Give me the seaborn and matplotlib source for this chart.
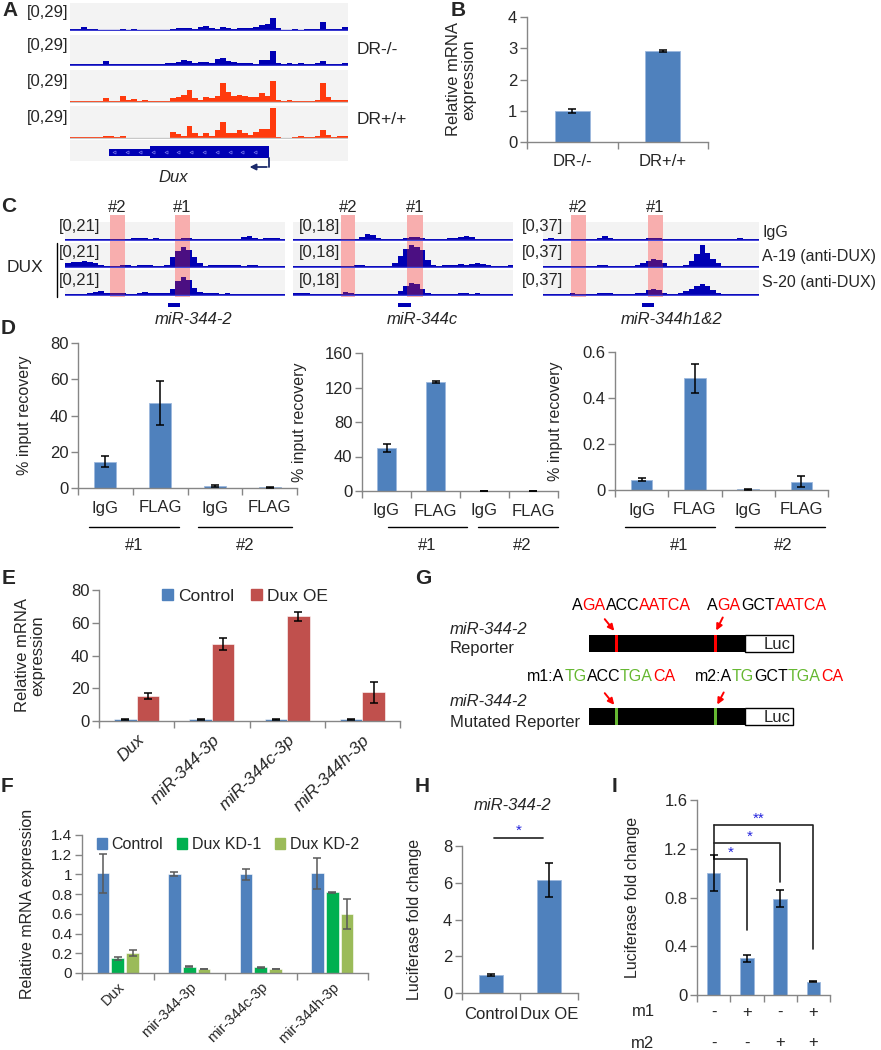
import numpy as np
import pandas as pd
import matplotlib
matplotlib.use("Agg")
import matplotlib.pyplot as plt
import seaborn as sns
from matplotlib.patches import Rectangle, Patch
from matplotlib.lines import Line2D
from matplotlib.transforms import Affine2D, blended_transform_factory
from matplotlib.offsetbox import TextArea, HPacker, AnnotationBbox

# ---------------- data ----------------
# A: coverage over the Dux locus, 50 bins, scale [0,29]
a_ko_1 = [0.8, 1, 3.5, 1, 0.5, 0, 0, 0, 0, 0.8, 0, 0.8, 0, 0, 0, 0, 0, 0, 1.5, 2.5,
          2, 2.5, 1.5, 3, 4, 2.5, 1.5, 3, 2.5, 1.5, 2, 2.5, 2, 3, 5, 6.5, 13, 2, 0, 0,
          1, 0, 1, 0.8, 1, 8, 1.5, 1, 1.5, 3]
a_ko_2 = [0.3, 0.3, 0.3, 0.3, 0.3, 0.5, 4, 1, 1.2, 1.2, 0.3, 0.3, 0.3, 0.3, 0.3, 0.3, 0.3, 1.5, 2, 2.5,
          4.5, 4, 1.5, 2.5, 3, 1.5, 6, 6.5, 3.5, 2.5, 2, 2, 1.5, 1, 4.5, 4.5, 13, 1.5, 0.5, 1.5,
          0.5, 1.5, 0.3, 0.3, 1.5, 4, 1, 1, 1.2, 2]
a_wt_1 = [0.3, 0.8, 1, 0.5, 0.3, 0.5, 3.5, 0.5, 0.5, 5, 2, 2.5, 0.5, 1.5, 0.3, 0.3, 0.3, 0.3, 3, 4,
          6, 11, 3.5, 2, 4, 3, 5, 17, 9, 5, 6, 5.5, 4.5, 4.5, 8, 5, 19, 2, 0.3, 1.5,
          1, 0.5, 0.3, 1, 1.5, 17, 4, 1.5, 1.5, 1.2]
a_wt_2 = [1, 0.8, 0.8, 0.5, 0.3, 0.3, 2, 1.2, 1, 1.2, 0.2, 0.2, 0.2, 0.2, 0.2, 0.2, 0.2, 0.2, 5, 3,
          2, 11, 4, 1.5, 4, 2, 7, 14, 4, 4, 7, 4, 2.5, 5, 8, 8, 27, 0.5, 0.2, 0.2,
          1, 1.2, 0.5, 1, 1.5, 7, 2.5, 1, 1.5, 1.2]

# B
b_geno = ['DR-/-', 'DR+/+']
b_expr = [1.0, 2.9]
b_err = [0.07, 0.03]

# C: ChIP-seq tracks (fraction of track scale), 40 bins
c_samples = ['IgG', 'A-19 (anti-DUX)', 'S-20 (anti-DUX)']
c_loci = ['miR-344-2', 'miR-344c', 'miR-344h1&2']
c_scales = ['[0,21]', '[0,18]', '[0,37]']
c1_igg = [0.05, 0.05, 0.05, 0.05, 0.05, 0.05, 0.05, 0.05, 0.05, 0.05, 0.05, 0.05, 0.15, 0.15, 0.1, 0.05, 0.1, 0.08, 0.08, 0.05,
          0.08, 0.12, 0.1, 0.05, 0.05, 0.05, 0.05, 0.05, 0.05, 0.05, 0.05, 0.05, 0.2, 0.25, 0.1, 0.05, 0.1, 0.1, 0.1, 0.05]
c1_a19 = [0.15, 0.2, 0.22, 0.25, 0.2, 0.15, 0.08, 0.05, 0.05, 0.05, 0.08, 0.1, 0.05, 0.08, 0.08, 0.08, 0.05, 0.05, 0.1, 0.4,
          0.65, 0.85, 0.7, 0.4, 0.15, 0.05, 0.08, 0.08, 0.1, 0.08, 0.1, 0.08, 0.05, 0.1, 0.08, 0.05, 0.05, 0.05, 0.05, 0.05]
c1_s20 = [0.05, 0.05, 0.05, 0.05, 0.1, 0.12, 0.15, 0.1, 0.08, 0.1, 0.1, 0.05, 0.05, 0.1, 0.12, 0.08, 0.1, 0.1, 0.08, 0.25,
          0.55, 0.72, 0.6, 0.3, 0.12, 0.1, 0.08, 0.08, 0.05, 0.08, 0.05, 0.05, 0.05, 0.05, 0.05, 0.05, 0.05, 0.05, 0.05, 0.05]
c2_igg = [0.05, 0.05, 0.05, 0.05, 0.05, 0.05, 0.05, 0.05, 0.05, 0.05, 0.05, 0.08, 0.2, 0.35, 0.3, 0.1, 0.05, 0.05, 0.05, 0.05,
          0.1, 0.2, 0.2, 0.1, 0.05, 0.05, 0.05, 0.08, 0.1, 0.15, 0.2, 0.25, 0.2, 0.05, 0.05, 0.05, 0.05, 0.05, 0.05, 0.05]
c2_a19 = [0.05, 0.05, 0.05, 0.05, 0.05, 0.05, 0.05, 0.05, 0.05, 0.05, 0.05, 0.1, 0.08, 0.05, 0.05, 0.05, 0.05, 0.05, 0.15, 0.45,
          0.75, 0.9, 0.85, 0.7, 0.3, 0.1, 0.05, 0.08, 0.1, 0.1, 0.12, 0.1, 0.12, 0.15, 0.12, 0.1, 0.05, 0.05, 0.05, 0.08]
c2_s20 = [0.1, 0.1, 0.08, 0.05, 0.05, 0.05, 0.05, 0.05, 0.05, 0.12, 0.08, 0.05, 0.05, 0.05, 0.05, 0.05, 0.05, 0.05, 0.05, 0.15,
          0.35, 0.5, 0.45, 0.25, 0.1, 0.05, 0.05, 0.05, 0.05, 0.05, 0.1, 0.1, 0.05, 0.1, 0.05, 0.05, 0.05, 0.05, 0.05, 0.05]
c3_igg = [0.05, 0.1, 0.08, 0.05, 0.05, 0.05, 0.05, 0.05, 0.05, 0.05, 0.15, 0.25, 0.15, 0.05, 0.05, 0.05, 0.05, 0.05, 0.05, 0.1,
          0.15, 0.15, 0.08, 0.05, 0.05, 0.05, 0.05, 0.05, 0.05, 0.05, 0.05, 0.05, 0.05, 0.05, 0.05, 0.05, 0.1, 0.08, 0.05, 0.05]
c3_a19 = [0.05, 0.05, 0.05, 0.05, 0.05, 0.05, 0.05, 0.05, 0.05, 0.05, 0.08, 0.1, 0.05, 0.05, 0.05, 0.05, 0.05, 0.1, 0.15, 0.25,
          0.35, 0.3, 0.15, 0.05, 0.05, 0.05, 0.1, 0.25, 0.55, 0.9, 0.6, 0.35, 0.15, 0.05, 0.05, 0.05, 0.05, 0.05, 0.05, 0.05]
c3_s20 = [0.05, 0.05, 0.05, 0.05, 0.05, 0.08, 0.05, 0.05, 0.05, 0.05, 0.08, 0.1, 0.08, 0.05, 0.05, 0.05, 0.05, 0.08, 0.1, 0.2,
          0.25, 0.2, 0.1, 0.05, 0.05, 0.1, 0.15, 0.25, 0.35, 0.45, 0.35, 0.2, 0.08, 0.05, 0.05, 0.05, 0.05, 0.05, 0.05, 0.05]
c_tracks = [[c1_igg, c1_a19, c1_s20], [c2_igg, c2_a19, c2_s20], [c3_igg, c3_a19, c3_s20]]
# regions #2 and #1 (bins) and miRNA position (bins)
c_roi = [[(8.2, 10.9), (20.0, 22.7)], [(8.7, 11.3), (20.7, 23.6)], [(5.2, 8.0), (19.4, 22.2)]]
c_mir = [(18.7, 20.9), (19.1, 21.5), (18.3, 20.6)]

# D: ChIP-qPCR
d_cats = ['IgG #1', 'FLAG #1', 'IgG #2', 'FLAG #2']
d_ticklabels = ['IgG', 'FLAG', 'IgG', 'FLAG']
d_344_2 = [14.5, 47, 1.0, 0.4]
d_344_2_err = [3, 12, 0.5, 0.2]
d_344c = [50, 126, 0.5, 0.5]
d_344c_err = [5, 1.2, 0, 0]
d_344h = [0.045, 0.485, 0.003, 0.035]
d_344h_err = [0.008, 0.063, 0.001, 0.024]

# E: Dux overexpression
e_genes = ['Dux', 'miR-344-3p', 'miR-344c-3p', 'miR-344h-3p']
e_control = [1, 1, 1, 1]
e_control_err = [0.2, 0.3, 0.2, 0.3]
e_oe = [15.5, 47, 64, 17.5]
e_oe_err = [1.8, 3.8, 2.8, 6.5]

# F: Dux knockdown
f_genes = ['Dux', 'mir-344-3p', 'mir-344c-3p', 'mir-344h-3p']
f_control = [1.01, 1.0, 1.0, 1.01]
f_control_err = [0.2, 0.02, 0.06, 0.16]
f_kd1 = [0.15, 0.065, 0.06, 0.82]
f_kd1_err = [0.015, 0.005, 0.005, 0.005]
f_kd2 = [0.2, 0.04, 0.04, 0.6]
f_kd2_err = [0.03, 0.004, 0.004, 0.155]

# H: luciferase, Dux OE
h_groups = ['Control', 'Dux OE']
h_fold = [1.0, 6.15]
h_err = [0.05, 0.93]

# I: luciferase, mutants
i_m1 = ['-', '+', '-', '+']
i_m2 = ['-', '-', '+', '+']
i_fold = [1.0, 0.3, 0.79, 0.11]
i_err = [0.15, 0.03, 0.07, 0.006]

# ---------------- style ----------------
sns.set_style("white")
plt.rcParams['font.family'] = ['Liberation Sans', 'DejaVu Sans']

BAR_BLUE = '#4F81BD'
BAR_RED = '#C0504D'
KD1_GREEN = '#00B050'
KD2_GREEN = '#9BBB59'
AX_GRAY = '#868686'
TRK_BLUE = '#0000B4'
TRK_RED = '#FF3A0D'
PINK = '#F8AEAE'
PURPLE = '#4B0F82'
TRK_BG = '#F3F3F3'
STAR_BLUE = '#2222DD'

W, H = 881, 1050
fig = plt.figure(figsize=(W / 100, H / 100), dpi=100)
px = Affine2D().scale(1 / W, -1 / H).translate(0, 1) + fig.transFigure


def box(x0, y0, x1, y1):
    return [x0 / W, 1 - y1 / H, (x1 - x0) / W, (y1 - y0) / H]


def label(x, y, s, **kw):
    kw.setdefault('va', 'center')
    kw.setdefault('ha', 'left')
    kw.setdefault('fontsize', 12)
    return fig.text(x, y, s, transform=px, **kw)


def plain(ax):
    ax.set_xticks([])
    ax.set_yticks([])
    for sp in ax.spines.values():
        sp.set_visible(False)


def draw_track(rect, vals, color, base, ymax, rois=()):
    ax = fig.add_axes(box(*rect))
    ax.set_facecolor(TRK_BG)
    n = len(vals)
    edges = np.arange(n + 1)
    for s, e in rois:
        ax.axvspan(s, e, color=PINK, lw=0, zorder=0.5)
    ax.stairs(vals, edges, fill=True, color=color, lw=0, zorder=2)
    for s, e in rois:
        st = ax.stairs(vals, edges, fill=True, color=PURPLE, lw=0, zorder=3)
        st.set_clip_path(Rectangle((s, -ymax), e - s, 3 * ymax, transform=ax.transData))
    ax.axhline(0, color=base, lw=1, zorder=4)
    ax.set_xlim(0, n)
    ax.set_ylim(-0.04 * ymax, ymax)
    plain(ax)
    return ax


def excel(ax, n, ylim, yticks, fs=12):
    ax.set_xlabel('')
    ax.set_ylabel('')
    ax.set_ylim(*ylim)
    ax.set_yticks(yticks)
    ax.set_yticklabels([f'{t:g}' for t in yticks])
    ax.set_xlim(-0.5, n - 0.5)
    ax.set_xticks(np.arange(n + 1) - 0.5, minor=True)
    ax.tick_params(axis='x', which='major', length=0, labelsize=fs, pad=9, bottom=True)
    ax.tick_params(axis='x', which='minor', length=5, width=1, color=AX_GRAY, direction='out', bottom=True)
    ax.tick_params(axis='y', length=5, width=1, color=AX_GRAY, direction='out', labelsize=fs, left=True, pad=2)
    for s in ['top', 'right']:
        ax.spines[s].set_visible(False)
    for s in ['left', 'bottom']:
        ax.spines[s].set_color(AX_GRAY)
        ax.spines[s].set_linewidth(1)
    ax.set_facecolor('none')


def errbars(ax, errs, color='black'):
    for cont, ee in zip(ax.containers, errs):
        for bar, e in zip(cont, ee):
            ax.errorbar(bar.get_x() + bar.get_width() / 2, bar.get_height(), yerr=e,
                        color=color, capsize=3, lw=1.1, capthick=1.1, zorder=5)


# ---------------- panel letters ----------------
for ch, x, y in [('A', 2, 11), ('B', 451, 11), ('C', 1, 206), ('D', 1, 328), ('E', 2, 578),
                 ('G', 415, 578), ('F', 1, 787), ('H', 415, 787), ('I', 612, 787)]:
    label(x, y, ch, fontsize=15, fontweight='bold')

# ---------------- A ----------------
a_rows = [(3, 31), (35, 66), (70, 103), (106, 139)]
for (y0, y1), vals, col, base in zip(a_rows, [a_ko_1, a_ko_2, a_wt_1, a_wt_2],
                                     [TRK_BLUE, TRK_BLUE, TRK_RED, TRK_RED],
                                     ['#3B3BD0', '#3B3BD0', '#C8C8C8', '#C8C8C8']):
    draw_track((70, y0, 348, y1), vals, col, base, 29)
    label(68, (y0 + y1) / 2 - 5, '[0,29]', ha='right')
label(357, 49, 'DR-/-', fontsize=12.5)
label(357, 120, 'DR+/+', fontsize=12.5)

gax = fig.add_axes(box(70, 140, 348, 161))
gax.set_facecolor(TRK_BG)
gax.set_xlim(0, 50)
gax.set_ylim(161, 140)
plain(gax)
gax.add_patch(Rectangle((7.0, 149), 7.4, 7, color=TRK_BLUE, lw=0))
gax.add_patch(Rectangle((14.4, 146), 21.4, 12, color=TRK_BLUE, lw=0))
chev = np.arange(8, 35, 2.3)
gax.plot(chev, [152] * len(chev), ls='none', marker='<',
         ms=2.2, mfc='none', mec='#7777EE', mew=0.5)
gax.plot([35.8, 35.8], [158, 167], color='#1B2A6B', lw=1.3, clip_on=False)
gax.annotate('', xy=(31.8, 167), xytext=(35.9, 167), xycoords='data',
             arrowprops=dict(arrowstyle='-|>', color='#1B2A6B', lw=1.3, mutation_scale=9),
             annotation_clip=False)
label(173, 178, 'Dux', ha='center', fontstyle='italic')

# ---------------- B ----------------
ax = fig.add_axes(box(527, 17, 708, 142))
sns.barplot(x=b_geno, y=b_expr, color=BAR_BLUE, width=0.39, saturation=1, errorbar=None, ax=ax,
            edgecolor='#9DB9DD', linewidth=0.6)
errbars(ax, [b_err])
excel(ax, 2, (0, 4), [0, 1, 2, 3, 4])
ax.set_ylabel('Relative mRNA\nexpression', fontsize=12, linespacing=1.0)
ax.yaxis.set_label_coords(-0.28, 0.5)

# ---------------- C ----------------
c_groups = [(65, 285), (293, 513), (543, 759)]
c_rows = [(222, 241), (243, 268), (270, 296)]
c_label_x = [100, 340, 563]
for gi, (gx0, gx1) in enumerate(c_groups):
    bg = fig.add_axes(box(gx0, 200, gx1, 310))
    bg.set_facecolor('none')
    bg.set_xlim(0, 40)
    bg.set_ylim(310, 200)
    plain(bg)
    for (s, e), tag in zip(c_roi[gi], ['#2', '#1']):
        bg.add_patch(Rectangle((s, 215), e - s, 82, color=PINK, lw=0))
        bg.text((s + e) / 2, 207, tag, ha='center', va='center', fontsize=12)
    ms, me = c_mir[gi]
    bg.add_patch(Rectangle((ms, 303), me - ms, 4, color=TRK_BLUE, lw=0))
    bg.text((ms + me) / 2 + (3.5 if gi == 0 else 3.2 if gi == 1 else 4.3), 319, c_loci[gi],
            ha='center', va='center', fontsize=12, fontstyle='italic')
    for (y0, y1), vals in zip(c_rows, c_tracks[gi]):
        draw_track((gx0, y0, gx1, y1), vals, TRK_BLUE, '#4848D8', 1.0, c_roi[gi])
    for (y0, y1), yy in zip(c_rows, [226, 253, 280]):
        label(c_label_x[gi], yy, c_scales[gi], ha='right')
label(7, 268, 'DUX', fontsize=12.5)
fig.add_artist(Line2D([57, 57], [243, 297], transform=px, color='black', lw=1))
for s, yy in zip(c_samples, [232, 256, 283]):
    label(762, yy, s, fontsize=11.5)

# ---------------- D ----------------
d_panels = [
    ((78, 343, 297, 488), d_344_2, d_344_2_err, (0, 80), [0, 20, 40, 60, 80],
     [(-0.3, 1.35), (1.7, 3.4)], [0.52, 2.55], 32),
    ((362, 353, 558, 491), d_344c, d_344c_err, (0, 160), [0, 40, 80, 120, 160],
     [(0.03, 1.64), (1.87, 3.5)], [0.83, 2.77], 307),
    ((615, 352, 828, 490), d_344h, d_344h_err, (0, 0.6), [0, 0.2, 0.4, 0.6],
     [(-0.31, 1.38), (1.75, 3.44)], [0.7, 2.65], 563),
]
for rect, vals, errs, ylim, yticks, lines, tags, ylab_x in d_panels:
    ax = fig.add_axes(box(*rect))
    sns.barplot(x=d_cats, y=vals, color=BAR_BLUE, width=0.4, saturation=1, errorbar=None, ax=ax,
                edgecolor='#9DB9DD', linewidth=0.6)
    errbars(ax, [errs])
    excel(ax, 4, ylim, yticks)
    ax.set_xticks(range(4))
    ax.set_xticklabels(d_ticklabels)
    tr = blended_transform_factory(ax.transData, px)
    for (l0, l1) in lines:
        ax.plot([l0, l1], [527, 527], color='black', lw=1, transform=tr, clip_on=False)
    for xt, tag in zip(tags, ['#1', '#2']):
        ax.text(xt, 545, tag, transform=tr, ha='center', va='center', fontsize=12)
    ax.set_ylabel('% input recovery', fontsize=11.5)
    ax.yaxis.set_label_coords((ylab_x - rect[0]) / (rect[2] - rect[0]), 0.5)

# ---------------- E ----------------
ax = fig.add_axes(box(99, 590, 400, 721))
e_df = pd.DataFrame({'gene': e_genes * 2,
                     'group': ['Control'] * 4 + ['Dux OE'] * 4,
                     'value': e_control + e_oe})
sns.barplot(data=e_df, x='gene', y='value', hue='group', palette=[BAR_BLUE, BAR_RED], width=0.6,
            saturation=1, errorbar=None, ax=ax, legend=False, edgecolor='white', linewidth=0.4)
errbars(ax, [e_control_err, e_oe_err])
excel(ax, 4, (0, 80), [0, 20, 40, 60, 80])
ax.set_xticks(range(4))
ax.set_xticklabels(e_genes, rotation=45, ha='right', rotation_mode='anchor', fontstyle='italic', fontsize=12.5)
ax.tick_params(axis='x', which='major', pad=8)
ax.legend(handles=[Patch(color=BAR_BLUE, label='Control'), Patch(color=BAR_RED, label='Dux OE')],
          loc='center', bbox_to_anchor=(0.485, 0.95), ncol=2, frameon=False, fontsize=12.5,
          handlelength=0.6, handleheight=0.6, handletextpad=0.3, columnspacing=1.0,
          borderpad=0, borderaxespad=0)
ax.set_ylabel('Relative mRNA\nexpression', fontsize=12, linespacing=1.0)
ax.yaxis.set_label_coords(-0.18, 0.5)

# ---------------- F ----------------
ax = fig.add_axes(box(82, 835, 368, 973))
f_df = pd.DataFrame({'gene': f_genes * 3,
                     'group': ['Control'] * 4 + ['Dux KD-1'] * 4 + ['Dux KD-2'] * 4,
                     'value': f_control + f_kd1 + f_kd2})
sns.barplot(data=f_df, x='gene', y='value', hue='group', palette=[BAR_BLUE, KD1_GREEN, KD2_GREEN],
            width=0.62, gap=0.15, saturation=1, errorbar=None, ax=ax, legend=False,
            edgecolor='white', linewidth=0.4)
errbars(ax, [f_control_err, f_kd1_err, f_kd2_err], color='#595959')
excel(ax, 4, (0, 1.4), [0, 0.2, 0.4, 0.6, 0.8, 1.0, 1.2, 1.4], fs=11)
ax.set_xticks(range(4))
ax.set_xticklabels(f_genes, rotation=45, ha='right', rotation_mode='anchor', fontsize=10.5)
ax.tick_params(axis='x', which='major', pad=5)
ax.legend(handles=[Patch(color=c, label=l) for c, l in
                   zip([BAR_BLUE, KD1_GREEN, KD2_GREEN], ['Control', 'Dux KD-1', 'Dux KD-2'])],
          loc='center', bbox_to_anchor=(0.51, 0.93), ncol=3, frameon=False, fontsize=11.5,
          handlelength=0.6, handleheight=0.6, handletextpad=0.3, columnspacing=0.9,
          borderpad=0, borderaxespad=0)
ax.set_ylabel('Relative mRNA expression', fontsize=11.5)
ax.yaxis.set_label_coords(-0.165, 0.5)

# ---------------- G ----------------
gx = fig.add_axes(box(440, 585, 881, 740))
gx.set_xlim(440, 881)
gx.set_ylim(740, 585)
gx.axis('off')
RED_SEQ = '#FF0000'
GREEN_SEQ = '#66B832'
for yb, stripe in [(635, RED_SEQ), (708, GREEN_SEQ)]:
    gx.add_patch(Rectangle((589, yb), 156, 17, color='black', lw=0))
    gx.add_patch(Rectangle((745, yb), 48, 17, facecolor='white', edgecolor='black', lw=1))
    gx.text(791, yb + 9, 'Luc', ha='right', va='center', fontsize=12)
    for xs in [615, 714]:
        gx.add_patch(Rectangle((xs, yb), 3, 17, color=stripe, lw=0))
for (x0, y0), (x1, y1) in [((603, 617), (616, 633)), ((724, 615), (715, 633)),
                           ((603, 691), (616, 707)), ((725, 690), (716, 707))]:
    gx.annotate('', xy=(x1, y1), xytext=(x0, y0),
                arrowprops=dict(arrowstyle='-|>', color='#FF0000', lw=1.4, mutation_scale=9))
g_seqs = [
    (572, 605, [('A', 'black'), ('GA', RED_SEQ), ('ACC', 'black'), ('AATCA', RED_SEQ)]),
    (707, 605, [('A', 'black'), ('GA', RED_SEQ), ('GCT', 'black'), ('AATCA', RED_SEQ)]),
    (527, 676, [('m1:A', 'black'), ('TG', GREEN_SEQ), ('ACC', 'black'), ('TGA', GREEN_SEQ), ('CA', RED_SEQ)]),
    (695, 676, [('m2:A', 'black'), ('TG', GREEN_SEQ), ('GCT', 'black'), ('TGA', GREEN_SEQ), ('CA', RED_SEQ)]),
]
for x, y, parts in g_seqs:
    pack = HPacker(children=[TextArea(s, textprops=dict(color=c, fontsize=11.5)) for s, c in parts],
                   align='baseline', pad=0, sep=0)
    gx.add_artist(AnnotationBbox(pack, (x, y), xycoords='data', box_alignment=(0, 0.5),
                                 frameon=False, pad=0))
label(450, 629, 'miR-344-2', fontstyle='italic')
label(450, 649, 'Reporter')
label(450, 702, 'miR-344-2', fontstyle='italic')
label(450, 722, 'Mutated Reporter')

# ---------------- H ----------------
ax = fig.add_axes(box(462, 846, 578, 993))
sns.barplot(x=h_groups, y=h_fold, color=BAR_BLUE, width=0.4, saturation=1, errorbar=None, ax=ax,
            edgecolor='#9DB9DD', linewidth=0.6)
errbars(ax, [h_err])
excel(ax, 2, (0, 8), [0, 2, 4, 6, 8])
ax.tick_params(axis='x', which='major', pad=10)
ax.plot([0.06, 0.89], [8.43, 8.43], color='#333333', lw=1.3, clip_on=False)
ax.text(0.47, 8.85, '*', color=STAR_BLUE, ha='center', va='center', fontsize=11)
label(513, 805, 'miR-344-2', ha='center', fontstyle='italic')
ax.set_ylabel('Luciferase fold change', fontsize=11.5)
ax.yaxis.set_label_coords(-0.345, 0.5)

# ---------------- I ----------------
ax = fig.add_axes(box(697, 800, 830, 995))
i_cats = [f'{a}/{b}_{k}' for k, (a, b) in enumerate(zip(i_m1, i_m2))]
sns.barplot(x=i_cats, y=i_fold, color=BAR_BLUE, width=0.4, saturation=1, errorbar=None, ax=ax,
            edgecolor='#9DB9DD', linewidth=0.6)
errbars(ax, [i_err])
excel(ax, 4, (0, 1.6), [0, 0.4, 0.8, 1.2, 1.6])
ax.set_xticks(range(4))
ax.set_xticklabels([])
tr = blended_transform_factory(ax.transData, px)
for k, (a, b) in enumerate(zip(i_m1, i_m2)):
    ax.text(k, 1012, a, transform=tr, ha='center', va='center', fontsize=12)
    ax.text(k, 1043, b, transform=tr, ha='center', va='center', fontsize=12)
label(643, 1012, 'm1', ha='center')
label(643, 1043, 'm2', ha='center')
for x1, top, drop in [(1, 1.12, 0.53), (2, 1.25, 0.93), (3, 1.395, 0.375)]:
    ax.plot([0, x1, x1], [top, top, drop], color='#222222', lw=1.2, clip_on=False)
ax.plot([0, 0], [1.12, 1.395], color='#222222', lw=1.2, clip_on=False)
for xs, ys, s in [(0.52, 1.17, '*'), (1.1, 1.30, '*'), (1.35, 1.45, '**')]:
    ax.text(xs, ys, s, color=STAR_BLUE, ha='center', va='center', fontsize=11)
ax.set_ylabel('Luciferase fold change', fontsize=11.5)
ax.yaxis.set_label_coords(-0.43, 0.5)

fig.savefig('out.png', dpi=100)
